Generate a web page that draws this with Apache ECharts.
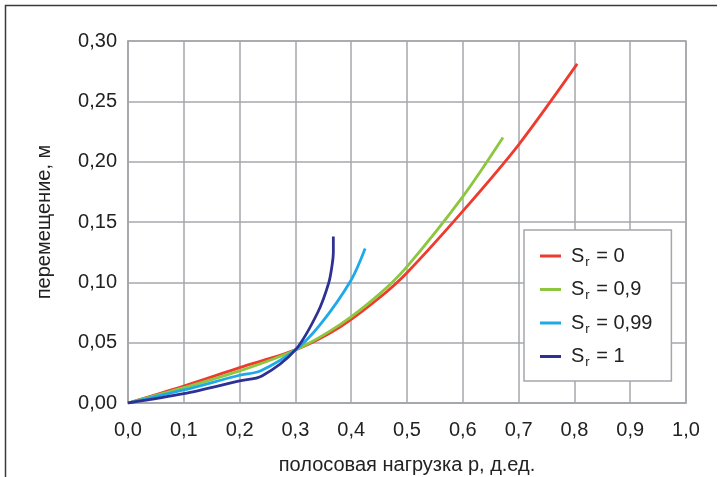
<!DOCTYPE html>
<html>
<head>
<meta charset="utf-8">
<script src="https://cdn.jsdelivr.net/npm/echarts@6/dist/echarts.min.js"></script>
<style>html,body{margin:0;padding:0;background:#fff}#c{width:727px;height:477px}</style>
</head>
<body>
<div id="c"></div>
<script>
// Tick labels
const xTickLabels = ['0,0','0,1','0,2','0,3','0,4','0,5','0,6','0,7','0,8','0,9','1,0'];
const yTickLabels = ['0,00','0,05','0,10','0,15','0,20','0,25','0,30'];

// Series: S_r values (legend) and read-off data
const srLabels = ['0', '0,9', '0,99', '1'];

const sr0X = [0, 0.1, 0.2, 0.3, 0.38, 0.45, 0.5, 0.6, 0.7, 0.805];
const sr0Y = [0, 0.0141, 0.0293, 0.044, 0.063, 0.087, 0.108, 0.159, 0.214, 0.281];

const sr09X = [0, 0.1, 0.2, 0.3, 0.38, 0.45, 0.5, 0.6, 0.672];
const sr09Y = [0, 0.0127, 0.0266, 0.044, 0.065, 0.09, 0.113, 0.171, 0.22];

const sr099X = [0, 0.1, 0.2, 0.237, 0.3, 0.344, 0.4, 0.425];
const sr099Y = [0, 0.0108, 0.023, 0.0266, 0.044, 0.0647, 0.102, 0.128];

const sr1X = [0, 0.1, 0.2, 0.24, 0.3, 0.34, 0.36, 0.366, 0.368, 0.368];
const sr1Y = [0, 0.0077, 0.0183, 0.0224, 0.044, 0.075, 0.10, 0.115, 0.125, 0.138];

const colors = ['#EE3B2E', '#8DC63F', '#1EAAE7', '#2E3192'];

const FONT = 'Liberation Sans, Arial, sans-serif';
const GRIDC = '#a4a7ab';

function zip(xs, ys) { return xs.map((x, i) => [x, ys[i]]); }
const seriesData = [zip(sr0X, sr0Y), zip(sr09X, sr09Y), zip(sr099X, sr099Y), zip(sr1X, sr1Y)];

const chart = echarts.init(document.getElementById('c'), null, {renderer: 'canvas'});
chart.setOption({
  backgroundColor: '#fff',
  animation: false,
  color: colors,
  graphic: [{
    type: 'polyline',
    shape: {points: [[5.5, 477], [5.5, 5.5], [717, 5.5]]},
    style: {stroke: '#3a3a3a', lineWidth: 1.5, fill: null},
    silent: true
  }],
  grid: {left: 128, right: 41, top: 41, bottom: 74, show: true, borderColor: GRIDC, borderWidth: 1.5,
    containLabel: false, outerBoundsMode: 'none'},
  xAxis: {
    type: 'value', min: 0, max: 1, interval: 0.1,
    name: 'полосовая нагрузка р, д.ед.', nameLocation: 'middle', nameGap: 52,
    nameTextStyle: {fontFamily: FONT, fontSize: 20, color: '#222'},
    axisLine: {show: true, lineStyle: {color: GRIDC, width: 1.5}},
    axisTick: {show: false},
    axisLabel: {margin: 17, fontFamily: FONT, fontSize: 20, color: '#222',
      formatter: v => xTickLabels[Math.round(v / 0.1)]},
    splitLine: {show: true, lineStyle: {color: GRIDC, width: 1.5}}
  },
  yAxis: {
    type: 'value', min: 0, max: 0.3, interval: 0.05,
    name: 'перемещение, м', nameLocation: 'middle', nameGap: 74,
    nameTextStyle: {fontFamily: FONT, fontSize: 20, color: '#222'},
    axisLine: {show: true, lineStyle: {color: GRIDC, width: 1.5}},
    axisTick: {show: false},
    axisLabel: {margin: 11, fontFamily: FONT, fontSize: 20, color: '#222',
      formatter: v => yTickLabels[Math.round(v / 0.05)]},
    splitLine: {show: true, lineStyle: {color: GRIDC, width: 1.5}}
  },
  legend: {
    orient: 'vertical', left: 524, top: 230,
    padding: [16, 19, 12, 16], itemGap: 11,
    backgroundColor: '#fff', borderColor: GRIDC, borderWidth: 1.5,
    icon: 'rect', itemWidth: 21, itemHeight: 3,
    data: srLabels.map(s => 'S_r = ' + s),
    formatter: name => '{a|S}{sub|r}{s| ' + name.replace('S_r ', '') + '}',
    textStyle: {
      fontFamily: FONT, fontSize: 20, color: '#222',
      rich: {
        a: {fontFamily: FONT, fontSize: 20, color: '#222', padding: [0, 0, 0, 5]},
        sub: {fontFamily: FONT, fontSize: 13, color: '#222', padding: [12, 1, 0, 1]},
        s: {fontFamily: FONT, fontSize: 20, color: '#222'}
      }
    }
  },
  series: seriesData.map((d, i) => ({
    name: 'S_r = ' + srLabels[i],
    type: 'line', data: d, showSymbol: false, symbol: 'none',
    smooth: 0.3,
    lineStyle: {width: 2.8, color: colors[i]}
  }))
});
</script>
</body>
</html>
